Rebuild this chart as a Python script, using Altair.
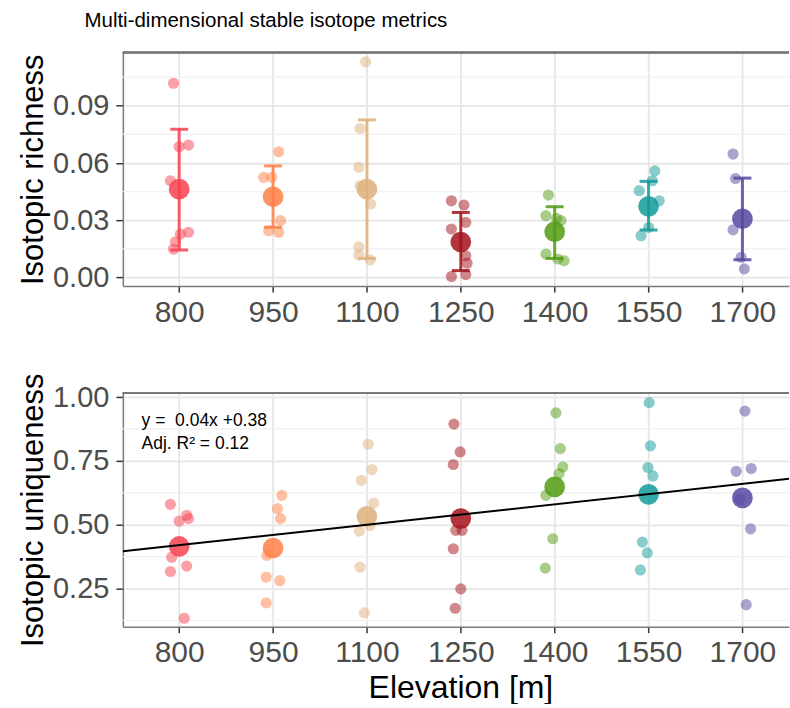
import altair as alt
import pandas as pd

FONT = "Liberation Sans"

# ---- categories & colours ----
elev = [800, 950, 1100, 1250, 1400, 1550, 1700]
colors = ["#F7424F", "#FF7F45", "#DDB07A", "#A3121B", "#519B12", "#139A9A", "#5647A0"]

# ---- isotopic richness: individual points (value, horizontal jitter in m) ----
rich_800 = [0.1018, 0.0685, 0.0694, 0.0507, 0.0237, 0.0228, 0.0187, 0.0149]
rich_800_dx = [-9, 0, 15, -14, 15, 2, -6, -9]
rich_950 = [0.0659, 0.0525, 0.0525, 0.0298, 0.0245, 0.0237]
rich_950_dx = [9, -15, -2, 12, -7, 9]
rich_1100 = [0.1130, 0.0781, 0.0577, 0.0481, 0.0385, 0.0161, 0.0119, 0.0092]
rich_1100_dx = [-2, -11, -13, -11, 6, -13, -13, 5]
rich_1250 = [0.0402, 0.0380, 0.0289, 0.0254, 0.0114, 0.0075, 0.0015, 0.0005]
rich_1250_dx = [-15, 5, 8, -15, 8, 10, 8, -15]
rich_1400 = [0.0432, 0.0324, 0.0310, 0.0298, 0.0123, 0.0097, 0.0088]
rich_1400_dx = [-10, -14, 3, 10, -14, 5, 15]
rich_1550 = [0.0559, 0.0507, 0.0455, 0.0402, 0.0262, 0.0219]
rich_1550_dx = [10, 6, -15, 17, 0, -12]
rich_1700 = [0.0647, 0.0519, 0.0250, 0.0106, 0.0045]
rich_1700_dx = [-15, -11, -15, -2, 3]

# group means and error-bar limits
rich_mean = [0.0463, 0.0423, 0.0463, 0.0186, 0.0240, 0.0373, 0.0308]
rich_lo = [0.0144, 0.0263, 0.0100, 0.0036, 0.0100, 0.0249, 0.0093]
rich_hi = [0.0777, 0.0585, 0.0826, 0.0341, 0.0371, 0.0504, 0.0521]

# ---- isotopic uniqueness: individual points ----
uniq_800 = [0.580, 0.537, 0.514, 0.524, 0.373, 0.317, 0.338, 0.134]
uniq_800_dx = [-14, 12, 0, 15, -12, -14, 12, 8]
uniq_950 = [0.615, 0.563, 0.524, 0.380, 0.295, 0.281, 0.194]
uniq_950_dx = [14, 7, 12, -10, -11, 11, -11]
uniq_1100 = [0.815, 0.716, 0.674, 0.585, 0.497, 0.475, 0.334, 0.155]
uniq_1100_dx = [2, 8, -9, 11, 5, -12, -11, -4]
uniq_1250 = [0.894, 0.785, 0.736, 0.478, 0.478, 0.406, 0.249, 0.173]
uniq_1250_dx = [-11, -1, -12, -8, 2, -12, 0, -9]
uniq_1400 = [0.938, 0.798, 0.726, 0.700, 0.615, 0.445, 0.330]
uniq_1400_dx = [2, 9, 13, 7, -14, -3, -15]
uniq_1550 = [0.978, 0.809, 0.724, 0.691, 0.432, 0.390, 0.323]
uniq_1550_dx = [1, 3, -1, 7, -10, -2, -13]
uniq_1700 = [0.945, 0.720, 0.709, 0.600, 0.484, 0.187]
uniq_1700_dx = [4, 14, -10, -4, 13, 6]

uniq_mean = [0.415, 0.409, 0.533, 0.524, 0.648, 0.619, 0.605]

# regression (x = group index, 800 -> 1)
reg_slope = 0.04
reg_intercept = 0.38

# axis ticks / grid
x_domain = [710, 1774.4]
rich_ticks = [0.00, 0.03, 0.06, 0.09]
rich_minor = [0.015, 0.045, 0.075, 0.105]
rich_domain = [-0.0045, 0.118]
uniq_ticks = [0.25, 0.50, 0.75, 1.00]
uniq_minor = [0.125, 0.375, 0.625, 0.875]
uniq_domain = [0.101, 1.016]

W, H1, H2 = 667, 234, 234

rich_pts = [rich_800, rich_950, rich_1100, rich_1250, rich_1400, rich_1550, rich_1700]
rich_dxs = [rich_800_dx, rich_950_dx, rich_1100_dx, rich_1250_dx, rich_1400_dx, rich_1550_dx, rich_1700_dx]
uniq_pts = [uniq_800, uniq_950, uniq_1100, uniq_1250, uniq_1400, uniq_1550, uniq_1700]
uniq_dxs = [uniq_800_dx, uniq_950_dx, uniq_1100_dx, uniq_1250_dx, uniq_1400_dx, uniq_1550_dx, uniq_1700_dx]


def points_frame(vals, dxs):
    rows = []
    for e, vs, ds in zip(elev, vals, dxs):
        for v, d in zip(vs, ds):
            rows.append({"g": str(e), "x": e + d, "v": v})
    return pd.DataFrame(rows)


rich_df = points_frame(rich_pts, rich_dxs)
uniq_df = points_frame(uniq_pts, uniq_dxs)
rich_sum = pd.DataFrame({"g": [str(e) for e in elev], "x": elev, "m": rich_mean,
                         "lo": rich_lo, "hi": rich_hi})
uniq_sum = pd.DataFrame({"g": [str(e) for e in elev], "x": elev, "m": uniq_mean})

line_x = x_domain
line_df = pd.DataFrame({"x": line_x,
                        "y": [reg_slope * ((xx - 800) / 150 + 1) + reg_intercept for xx in line_x]})

col = alt.Color("g:N", scale=alt.Scale(domain=[str(e) for e in elev], range=colors), legend=None)
xscale = alt.Scale(domain=x_domain, nice=False, zero=False)

axis_common = dict(
    labelFont=FONT, titleFont=FONT, labelColor="#4D4D4D", titleColor="#000000",
    tickColor="#333333", tickWidth=1.5, domainColor="#7A7A7A", domainWidth=1.5,
    gridColor="#E6E6E6", gridWidth=1.8, titleFontWeight="normal",
)


def xaxis(title):
    return alt.Axis(values=elev, format="d", title=title, labelFontSize=30, labelPadding=5,
                    tickSize=6, titleFontSize=32, titlePadding=5, **axis_common)


def yaxis(title, ticks):
    return alt.Axis(values=ticks, format=".2f", title=title, labelFontSize=29, labelPadding=7,
                    tickSize=7, titleFontSize=31, titlePadding=3, **axis_common)


def panel(pts, summ, minor, ticks, domain, ytitle, xtitle, h, errbars):
    yscale = alt.Scale(domain=domain, nice=False, zero=False)
    base_x = alt.X("x:Q", scale=xscale, axis=xaxis(xtitle))
    minor_df = pd.DataFrame({"v": minor})
    grid = alt.Chart(minor_df).mark_rule(color="#F0F0F0", strokeWidth=1.2).encode(
        y=alt.Y("v:Q", scale=yscale, axis=yaxis(ytitle, ticks)))
    p = alt.Chart(pts).mark_circle(size=125, opacity=0.5).encode(
        x=base_x, y=alt.Y("v:Q", scale=yscale), color=col)
    layers = [grid, p]
    if errbars:
        bar = alt.Chart(summ).mark_rule(strokeWidth=3, opacity=0.85).encode(
            x="x:Q", y="lo:Q", y2="hi:Q", color=col)
        cap_lo = alt.Chart(summ).mark_tick(orient="horizontal", size=18, thickness=3, opacity=0.85).encode(
            x="x:Q", y="lo:Q", color=col)
        cap_hi = alt.Chart(summ).mark_tick(orient="horizontal", size=18, thickness=3, opacity=0.85).encode(
            x="x:Q", y="hi:Q", color=col)
        layers += [bar, cap_lo, cap_hi]
    mean = alt.Chart(summ).mark_circle(size=430, opacity=0.85).encode(
        x="x:Q", y=alt.Y("m:Q"), color=col)
    layers.append(mean)
    border = alt.Chart(summ).mark_rule(color="#7A7A7A", strokeWidth=1.5).encode(
        x=alt.value(0), x2=alt.value(W), y=alt.value(0))
    layers.append(border)
    return alt.layer(*layers).properties(width=W, height=h)


top = panel(rich_df, rich_sum, rich_minor, rich_ticks, rich_domain,
            "Isotopic richness", None, H1, True)

bottom_base = panel(uniq_df, uniq_sum, uniq_minor, uniq_ticks, uniq_domain,
                    "Isotopic uniqueness", "Elevation [m]", H2, False)

reg_line = alt.Chart(line_df).mark_line(color="#000000", strokeWidth=2, clip=True).encode(
    x="x:Q", y="y:Q")
ann_df = pd.DataFrame({"x": [740, 740], "y": [0.888, 0.798],
                       "t": ["y =\u00a0 0.04x +0.38", "Adj. R\u00b2 = 0.12"]})
ann = alt.Chart(ann_df).mark_text(align="left", baseline="alphabetic", font=FONT,
                                  fontSize=17.5, color="#000000").encode(
    x="x:Q", y="y:Q", text="t:N")

bottom = alt.layer(bottom_base, reg_line, ann)

chart = alt.vconcat(top, bottom, spacing=107, bounds="flush").properties(
    title=alt.TitleParams("Multi-dimensional stable isotope metrics", anchor="start",
                          font=FONT, fontSize=20.5, fontWeight="normal", color="#000000",
                          dx=67, offset=20.5),
    padding={"left": 17, "top": 10, "right": 0, "bottom": 0},
).configure_view(stroke=None).configure_axisX(titleX=338)

chart.save("out.html", embed_options={"renderer": "svg", "actions": False})
